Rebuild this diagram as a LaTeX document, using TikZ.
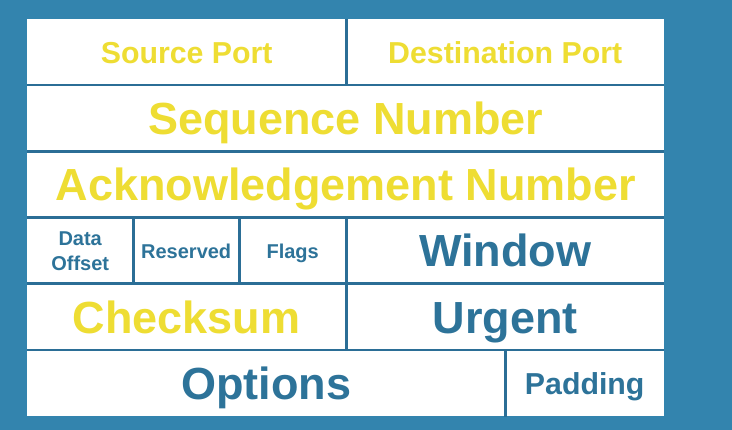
\documentclass[tikz,border=0pt]{standalone}
\usepackage{fontspec}
\setmainfont{Liberation Sans}
\definecolor{bgblue}{HTML}{3384AE}
\definecolor{rule}{HTML}{2B6E96}
\definecolor{inkblue}{HTML}{2D7399}
\definecolor{inkyellow}{HTML}{EEDD33}
\tikzset{
  cell/.style={anchor=north west, fill=white, inner sep=0pt, minimum height=66.2pt, align=center},
  big/.style={font=\fontsize{45}{54}\selectfont\bfseries, text height=32.2pt, text depth=0pt},
  mid/.style={font=\fontsize{30.3}{36}\selectfont\bfseries, text height=21.7pt, text depth=0pt},
  small/.style={font=\fontsize{20}{25}\selectfont\bfseries},
  smallone/.style={small, text height=14.3pt, text depth=0pt},
  divider/.style={draw=rule, line width=2.6pt},
}
\begin{document}
\begin{tikzpicture}[x=1pt, y=-1pt]
  % page and background
  \fill[bgblue] (0,0) rectangle (732,430);
  \useasboundingbox (0,0) rectangle (732,430);

  % row 1: ports
  \node[cell, mid, text=inkyellow, minimum width=319pt] (src) at (27,19) {Source Port};
  \node[cell, mid, text=inkyellow, minimum width=318pt] (dst) at (346,19) {Destination Port};
  % row 2: sequence number
  \node[cell, big, text=inkyellow, minimum width=637pt] (seq) at (27,85.2) {Sequence Number};
  % row 3: acknowledgement number
  \node[cell, big, text=inkyellow, minimum width=637pt] (ack) at (27,151.4) {Acknowledgement Number};
  % row 4: offset, reserved, flags, window
  \node[cell, small, text=inkblue, minimum width=106pt] (off) at (27,217.6) {Data\\Offset};
  \node[cell, smallone, text=inkblue, minimum width=106pt] (rsv) at (133,217.6) {Reserved};
  \node[cell, smallone, text=inkblue, minimum width=107pt] (flg) at (239,217.6) {Flags};
  \node[cell, big, text=inkblue, minimum width=318pt] (win) at (346,217.6) {Window};
  % row 5: checksum, urgent pointer
  \node[cell, big, text=inkyellow, minimum width=319pt] (chk) at (27,283.8) {Checksum};
  \node[cell, big, text=inkblue, minimum width=318pt] (urg) at (346,283.8) {Urgent};
  % row 6: options, padding
  \node[cell, big, text=inkblue, minimum width=478pt] (opt) at (27,350) {Options};
  \node[cell, mid, text=inkblue, minimum width=159pt] (pad) at (505,350) {Padding};

  % horizontal rules between rows
  \draw[divider] (seq.north west) -- (seq.north east);
  \draw[divider] (ack.north west) -- (ack.north east);
  \draw[divider] (off.north west) -- (win.north east);
  \draw[divider] (chk.north west) -- (urg.north east);
  \draw[divider] (opt.north west) -- (pad.north east);
  % vertical rules between fields
  \draw[divider] (src.north east) -- (src.south east);
  \draw[divider] (off.north east) -- (off.south east);
  \draw[divider] (rsv.north east) -- (rsv.south east);
  \draw[divider] (flg.north east) -- (flg.south east);
  \draw[divider] (chk.north east) -- (chk.south east);
  \draw[divider] (opt.north east) -- (opt.south east);
\end{tikzpicture}
\end{document}
